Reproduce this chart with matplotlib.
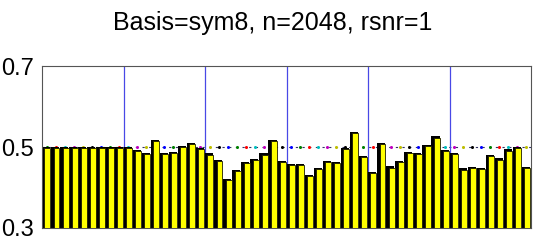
import numpy as np
import matplotlib
matplotlib.use('Agg')
import matplotlib.pyplot as plt

# bar heights, 6 groups of 9
group1 = [0.5, 0.5, 0.5, 0.5, 0.5, 0.5, 0.5, 0.5, 0.5]
group2 = [0.5, 0.492, 0.485, 0.517, 0.485, 0.488, 0.502, 0.511, 0.497]
group3 = [0.484, 0.469, 0.422, 0.443, 0.463, 0.471, 0.484, 0.517, 0.465]
group4 = [0.458, 0.458, 0.432, 0.449, 0.465, 0.463, 0.497, 0.538, 0.478]
group5 = [0.438, 0.511, 0.452, 0.465, 0.488, 0.486, 0.505, 0.526, 0.492]
group6 = [0.485, 0.447, 0.450, 0.448, 0.481, 0.472, 0.494, 0.5, 0.450]
ref_level = 0.5
yticks = [0.3, 0.5, 0.7]
title = 'Basis=sym8, n=2048, rsnr=1'

values = np.array(group1 + group2 + group3 + group4 + group5 + group6)
n_groups = 6
per_group = len(group1)
x = np.arange(1, len(values) + 1)

font = ['Liberation Sans', 'DejaVu Sans']

fig = plt.figure(figsize=(5.36, 2.4), dpi=100)
ax = fig.add_axes([0.0784, 0.05, 0.9123, 0.675])

# dotted reference at 0.5 with matlab colour cycle dots
ax.plot([0.5, len(values) + 0.5], [ref_level, ref_level], color='#333366',
        lw=0.8, ls=(0, (2, 4)), zorder=1)
cycle = 'bgrcmyk'
for i, xi in enumerate(x):
    ax.plot(xi, ref_level, 'o', ms=2.2, mec='none', color=cycle[(i + 1) % 7], zorder=1)

# bars: black shadow on the left, yellow face
ax.bar(x - 0.05, values - 0.3, bottom=0.3, width=0.9, color='black', zorder=2)
ax.bar(x + 0.1, values - 0.3 - 0.003, bottom=0.3, width=0.66, color='#ffff00',
       edgecolor='#1a1a00', lw=0.6, zorder=3)

# group separators
for g in range(1, n_groups):
    ax.axvline(g * per_group + 0.5, color='#4848e6', lw=0.9, zorder=1.5)

ax.set_xlim(0.5, len(values) + 0.5)
ax.set_ylim(0.3, 0.7)
ax.set_xticks([])
ax.set_yticks(yticks)
ax.set_yticklabels([str(t) for t in yticks], family=font, fontsize=17)
ax.tick_params(axis='y', length=0, pad=6)
for s in ax.spines.values():
    s.set_color('#555555')
    s.set_linewidth(0.8)

fig.text(0.508, 0.905, title, ha='center', va='center', family=font, fontsize=18)

fig.savefig('out.png', dpi=100)
